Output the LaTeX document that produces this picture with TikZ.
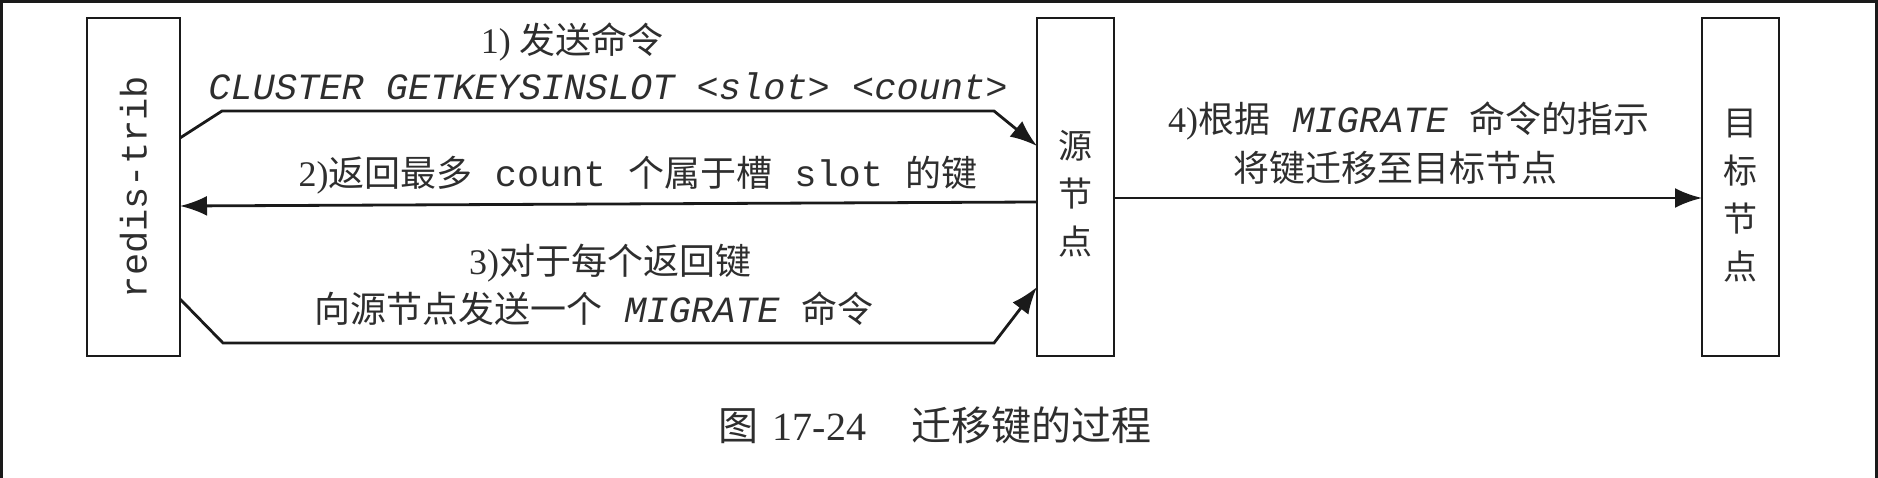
\documentclass[tikz,border=0pt]{standalone}
\usepackage{fontspec}
\setmainfont{Liberation Serif}
\setmonofont{Liberation Mono}
\newfontfamily\cjk{Noto Sans CJK SC}
\usetikzlibrary{arrows.meta}
\definecolor{ink}{HTML}{1A1A1A}
\definecolor{txt}{HTML}{2E2E2E}
\tikzset{
  box/.style={draw=ink, line width=2.8pt, minimum width=#1, minimum height=338pt, inner sep=0pt, outer sep=0pt},
  arr/.style={draw=ink, line width=2.8pt, -{Latex[length=27pt,width=20pt]}},
  lbl/.style={text=txt, inner sep=0pt, font=\cjk\fontsize{36}{48}\selectfont},
  vlbl/.style={text=txt, inner sep=0pt, align=center, font=\cjk\fontsize{34}{48}\selectfont},
  frame/.style={draw=ink, line width=3pt}
}
\newcommand{\lat}[1]{{\rmfamily #1}}
\newcommand{\mono}[1]{{\ttfamily\fontsize{37}{48}\selectfont #1}}
\newcommand{\monoit}[1]{{\ttfamily\itshape\fontsize{37}{48}\selectfont #1}}
\begin{document}
\begin{tikzpicture}[x=1pt,y=-1pt]
\useasboundingbox (0,0) rectangle (1878,478);
\draw[frame] (1.5,478) -- (1.5,1.5) -- (1876.5,1.5) -- (1876.5,478);

% boxes
\node[box=93pt] (redis) at (133.5,187) {};
\node[text=txt, rotate=90, inner sep=0pt, font=\ttfamily\fontsize{37}{37}\selectfont] (redislbl) at (133.5,187) {redis-trib};
\node[box=77pt] (src) at (1075.5,187) {};
\node[vlbl] (srclbl) at (1075.5,194) {源\\节\\点};
\node[box=77pt] (tgt) at (1740.5,187) {};
\node[vlbl] (tgtlbl) at (1740.5,196) {目\\标\\节\\点};

% arrows
\draw[arr] ([yshift=49pt]redis.east) -- ++(42,-27) -- ([xshift=-43pt,yshift=76pt]src.west) -- ([yshift=41pt]src.west);
\draw[arr] ([yshift=-15pt]src.west) -- ([yshift=-19pt]redis.east);
\draw[arr] ([yshift=-112pt]redis.east) -- ++(43,44) -- ([xshift=-43pt,yshift=-156pt]src.west) -- ([yshift=-100pt]src.west);
\draw[arr] ([yshift=-11pt]src.east) -- ([yshift=-11pt]tgt.west);

% labels
\node[lbl] (l1a) at (572,42) {\lat{1)} 发送命令};
\node[lbl] (l1b) at (608,86) {\monoit{CLUSTER GETKEYSINSLOT <slot> <count>}};
\node[lbl] (l2) at (638,175) {\lat{2)}返回最多\mono{ count }个属于槽\mono{ slot }的键};
\node[lbl] (l3a) at (610,263) {\lat{3)}对于每个返回键};
\node[lbl] (l3b) at (594,309) {向源节点发送一个\monoit{ MIGRATE }命令};
\node[lbl] (l4a) at (1409,121) {\lat{4)}根据\monoit{ MIGRATE }命令的指示};
\node[lbl] (l4b) at (1395,168) {将键迁移至目标节点};

% caption
\node[lbl, font=\cjk\fontsize{40}{48}\selectfont] (cap) at (935,425) {图\hspace{14pt}{\rmfamily 17-24}\hspace{45pt}迁移键的过程};
\end{tikzpicture}
\end{document}
